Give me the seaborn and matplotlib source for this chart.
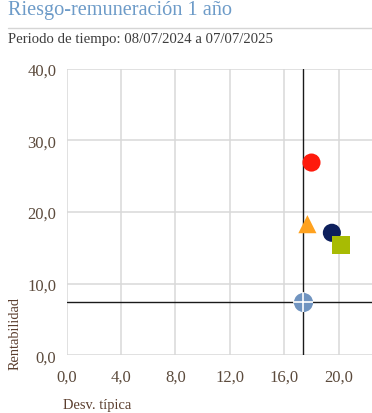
import matplotlib; matplotlib.use("Agg")
import matplotlib.pyplot as plt
from matplotlib.lines import Line2D
import pandas as pd
import seaborn as sns

# funds plotted (risk vs return, 1 year)
names = ["Fondo A", "Fondo B", "Fondo C", "Fondo D"]
desv = [18.0, 17.7, 19.5, 20.2]
rent = [26.9, 18.3, 17.1, 15.4]
colors = ["#fe1a0c", "#ffa21f", "#0d1f5c", "#a8bb03"]
shapes = ["o", "^", "o", "s"]

# benchmark (crosshair)
bench_x = 17.4
bench_y = 7.4

x_ticks = [0, 4, 8, 12, 16, 20]
y_ticks = [0, 10, 20, 30, 40]

TXT = "#5b4a3c"
GRID = "#d9d9d9"

sns.set_style("white")
plt.rcParams["font.family"] = ["Liberation Serif", "DejaVu Serif"]

fig = plt.figure(figsize=(3.72, 4.14), dpi=100)
ax = fig.add_axes([66.7 / 372, 1 - 356.3 / 414, 305.3 / 372, 286.6 / 414])

df = pd.DataFrame({"name": names, "x": desv, "y": rent})
ax.axvline(bench_x, color="#1a1a1a", lw=1.0, zorder=2)
ax.axhline(bench_y, color="#1a1a1a", lw=1.0, zorder=2)

sns.scatterplot(data=df, x="x", y="y", hue="name", style="name",
                palette=dict(zip(names, colors)),
                markers=dict(zip(names, shapes)),
                s=170, linewidth=0, legend=False, ax=ax, zorder=3)
ax.scatter([bench_x], [bench_y], s=190, color="#7094c0", linewidths=0, zorder=4)
ax.scatter([bench_x], [bench_y], s=190, marker="+", color="white", linewidths=1.2, zorder=5)

ax.set_xlim(0, 22.45)
ax.set_ylim(0, 40)
ax.set_xticks(x_ticks)
ax.set_yticks(y_ticks)
ax.set_xticklabels([f"{v:.1f}".replace(".", ",") for v in x_ticks])
ax.set_yticklabels([f"{v:.1f}".replace(".", ",") for v in y_ticks])
ax.grid(True, color=GRID, lw=1.1)
ax.set_axisbelow(True)
for s in ax.spines.values():
    s.set_visible(False)
ax.tick_params(axis="both", length=6.5, width=1.1, color=GRID, labelcolor=TXT,
               labelsize=12, pad=1)
ax.tick_params(axis="x", pad=3)
ax.set_xlabel("")
ax.set_ylabel("")

fig.text(8 / 372, 1 - 10 / 414, "Riesgo-remuneración 1 año", color="#6d9bc8",
         fontsize=14.6, ha="left", va="center")
fig.add_artist(Line2D([8 / 372, 1], [1 - 29 / 414, 1 - 29 / 414],
                      color="#d5d5d5", lw=1.0))
fig.text(8 / 372, 1 - 39 / 414, "Periodo de tiempo: 08/07/2024 a 07/07/2025",
         color="#3d3d3d", fontsize=10.6, ha="left", va="center")
fig.text(63 / 372, 1 - 406 / 414, "Desv. típica", color="#5b3e2e",
         fontsize=10.4, ha="left", va="center")
fig.text(15 / 372, 1 - 334 / 414, "Rentabilidad", color="#5b3e2e",
         fontsize=10.4, rotation=90, ha="center", va="center")

fig.savefig("out.png", dpi=100)
